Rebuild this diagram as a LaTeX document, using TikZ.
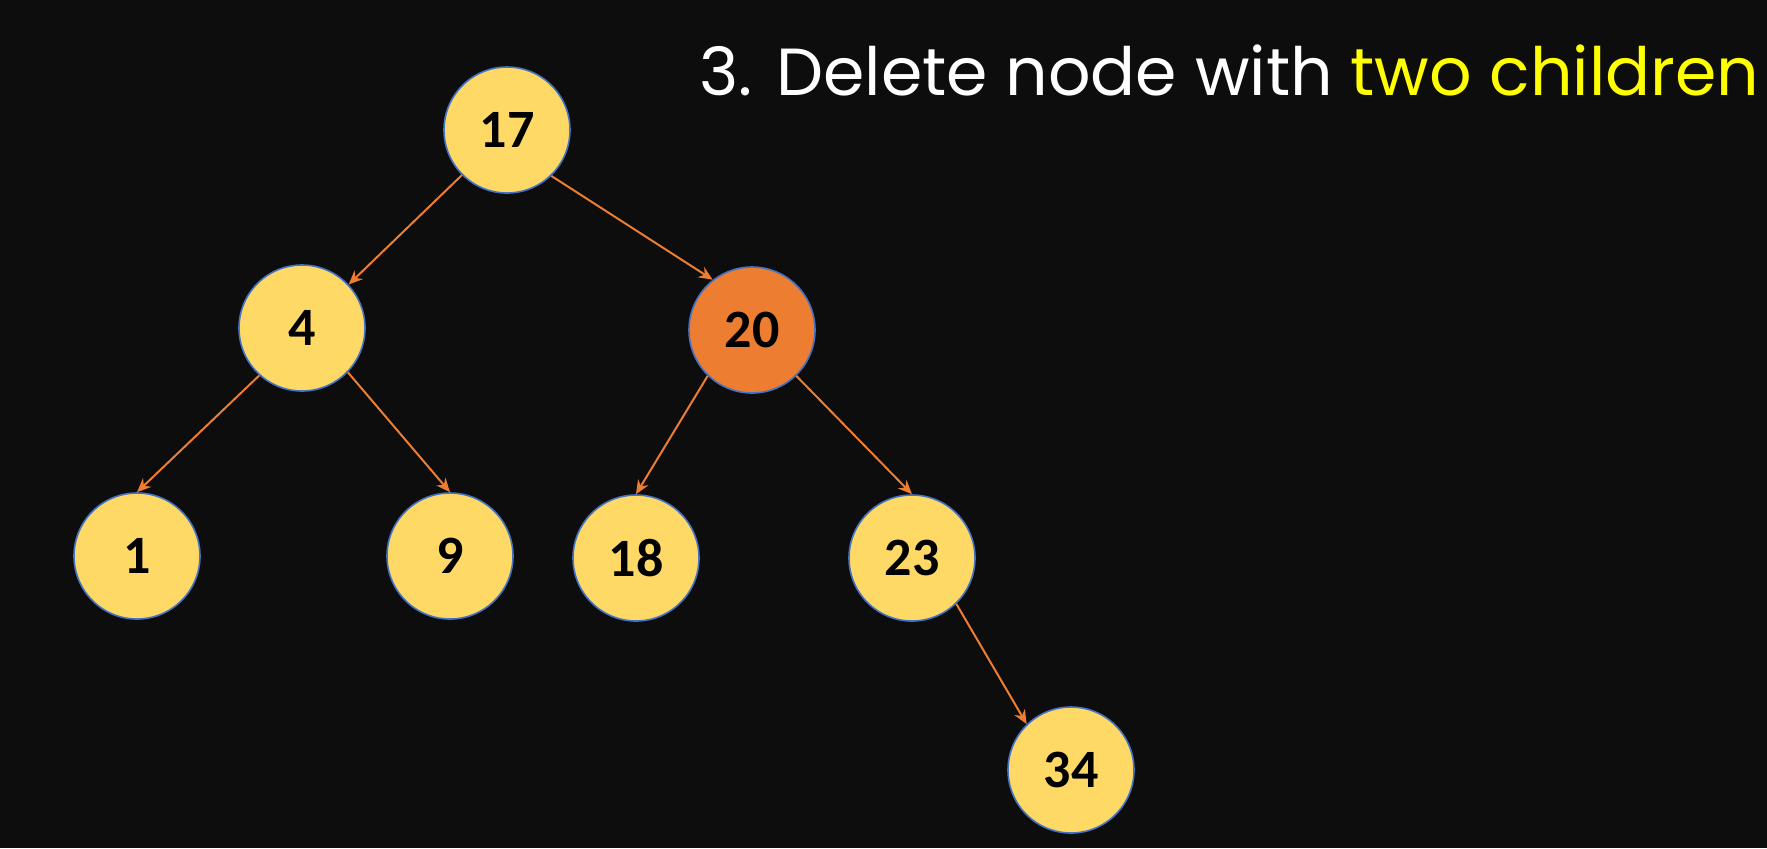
\documentclass[tikz,border=0pt]{standalone}
\usepackage{fontspec}
\setmainfont{Poppins}
\newfontfamily\numfont{Carlito}
\usetikzlibrary{arrows.meta}
\definecolor{bgdark}{HTML}{0D0D0D}
\definecolor{keyfill}{HTML}{FFD966}
\definecolor{keyedge}{HTML}{4472C4}
\definecolor{linkorange}{HTML}{ED7D31}
\definecolor{titleyellow}{HTML}{FFFF00}
\tikzset{
  key/.style={circle, draw=keyedge, line width=0.8pt, fill=keyfill, minimum size=63pt,
    inner sep=0pt, font=\numfont\bfseries\fontsize{27}{27}\selectfont, text=black},
  target/.style={key, fill=linkorange},
  link/.style={linkorange, line width=1pt, -{Stealth[length=7pt,width=6pt]}}
}
\begin{document}
\begin{tikzpicture}[x=0.5pt, y=-0.5pt]
	  \fill[bgdark] (0,0) rectangle (1767,848);
	  \useasboundingbox (0,0) rectangle (1767,848);
	  %title
	  \node[anchor=base west, inner sep=0pt, text=white, font=\fontsize{33.3}{33.3}\selectfont]
	    (title) at (699,95) {3. Delete node with \textcolor{titleyellow}{two children}};
	  %keys
	  \node[key] (n17) at (507,130) {17};
	  \node[key] (n4) at (302,328) {4};
	  \node[target] (n20) at (752,330) {20};
	  \node[key] (n1) at (137,556) {1};
	  \node[key] (n9) at (450,556) {9};
	  \node[key] (n18) at (636,558) {18};
	  \node[key] (n23) at (912,558) {23};
	  \node[key] (n34) at (1071,770) {34};
	  %links
	  \draw[link] (n17.225) -- (n4.43);
	  \draw[link] (n17.-46) -- (n20.128);
	  \draw[link] (n4.228) -- (n1.north);
	  \draw[link] (n4.-44) -- (n9.north);
	  \draw[link] (n20.-134) -- (n18.north);
	  \draw[link] (n20.-46) -- (n23.north);
	  \draw[link] (n23.-46) -- (n34.134);
	\end{tikzpicture}
\end{document}
